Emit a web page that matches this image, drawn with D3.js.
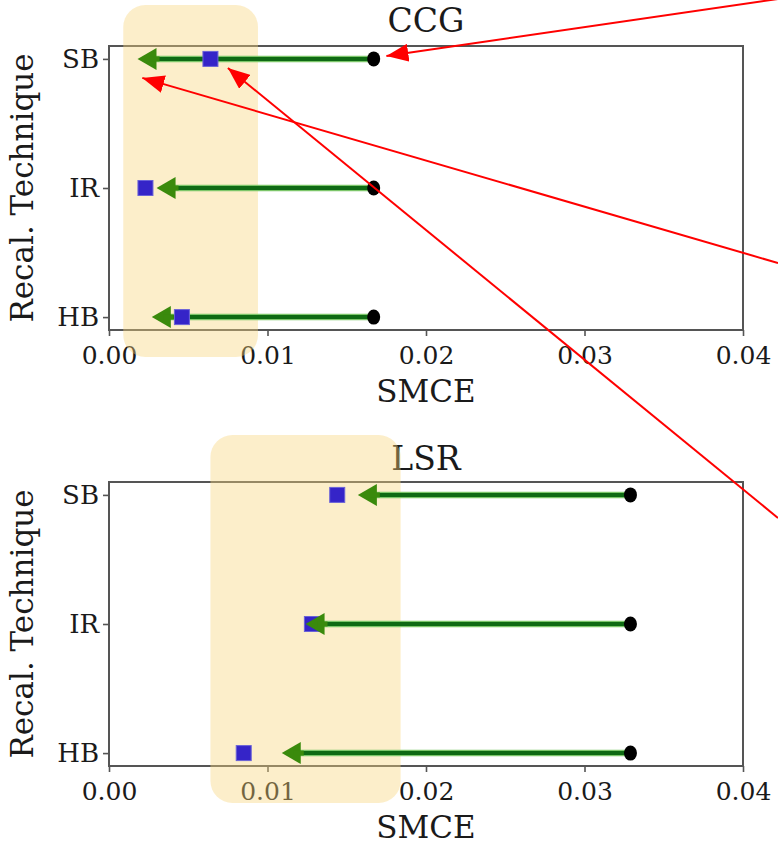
<!DOCTYPE html>
<html>
<head>
<meta charset="utf-8">
<script src="https://cdn.jsdelivr.net/npm/d3@7"></script>
<style>
  body { margin: 0; background: #fff; }
  text { font-family: "DejaVu Serif", serif; fill: #1a1a1a; }
</style>
</head>
<body>
<script>
// recalibration techniques, top to bottom
var techniques = ["SB", "IR", "HB"];
var xTicks = [0, 0.01, 0.02, 0.03, 0.04];

// CCG panel
var ccgBefore = [0.0167, 0.0167, 0.0167];
var ccgArrowEnd = [0.0018, 0.0030, 0.0027];
var ccgAfter = [0.0064, 0.0023, 0.0046];
var ccgHighlight = [0.0009, 0.0094];

// LSR panel
var lsrBefore = [0.0329, 0.0329, 0.0329];
var lsrArrowEnd = [0.0157, 0.0124, 0.0109];
var lsrAfter = [0.0144, 0.0128, 0.0085];
var lsrHighlight = [0.0064, 0.0184];

var W = 778, H = 846;
var svg = d3.select("body").append("svg")
  .attr("width", W)
  .attr("height", H);

var defs = svg.append("defs");
defs.append("marker")
  .attr("id", "redhead")
  .attr("viewBox", "0 -9 22 18")
  .attr("refX", 22)
  .attr("refY", 0)
  .attr("markerWidth", 22)
  .attr("markerHeight", 18)
  .attr("markerUnits", "userSpaceOnUse")
  .attr("orient", "auto")
  .append("path")
  .attr("d", "M0,-9L22,0L0,9Z")
  .attr("fill", "#ff0000");

var x = d3.scaleLinear().domain([0, 0.04]).range([109, 743]);

var panels = [];

function drawPanel(title, top, bottom, before, arrowEnd, after, highlight, hlTop, hlBottom, titleY){
  // y positions: HB=0 .. SB=2 with 5% margins
  var y = d3.scaleLinear().domain([-0.1, 2.1]).range([bottom, top]);
  var yPos = function(i){ return y(2 - i); };
  var g = svg.append("g");

  // spines
  g.append("rect")
    .attr("x", x(0)).attr("y", top)
    .attr("width", x(0.04) - x(0)).attr("height", bottom - top)
    .attr("fill", "none").attr("stroke", "#555").attr("stroke-width", 2);

  // x axis
  var xa = g.append("g").attr("transform", "translate(0," + bottom + ")")
    .call(d3.axisBottom(x).tickValues(xTicks).tickFormat(d3.format(".2f")).tickSize(6).tickPadding(4));
  xa.select(".domain").remove();
  xa.selectAll("line").attr("stroke", "#555").attr("stroke-width", 1.6);
  xa.selectAll("text").attr("font-size", 25).attr("fill", "#1a1a1a").attr("dy", "0.95em");

  // y axis
  var yb = d3.scaleOrdinal().domain(techniques).range(techniques.map(function(d, i){ return yPos(i); }));
  var ya = g.append("g").attr("transform", "translate(" + x(0) + ",0)")
    .call(d3.axisLeft(yb).tickSize(6).tickPadding(4));
  ya.select(".domain").remove();
  ya.selectAll("line").attr("stroke", "#555").attr("stroke-width", 1.6);
  ya.selectAll("text").attr("font-size", 26).attr("fill", "#1a1a1a");

  // labels
  g.append("text")
    .attr("x", x(0.02)).attr("y", bottom + 72)
    .attr("text-anchor", "middle").attr("font-size", 31)
    .text("SMCE");
  g.append("text")
    .attr("transform", "translate(33," + ((top + bottom) / 2) + ") rotate(-90)")
    .attr("text-anchor", "middle").attr("font-size", 31)
    .text("Recal. Technique");
  g.append("text")
    .attr("x", x(0.02)).attr("y", titleY)
    .attr("text-anchor", "middle").attr("font-size", 33)
    .text(title);

  // highlight box over the axes, under the marks
  g.append("rect")
    .attr("x", x(highlight[0])).attr("y", hlTop)
    .attr("width", x(highlight[1]) - x(highlight[0]))
    .attr("height", hlBottom - hlTop)
    .attr("rx", 22).attr("ry", 22)
    .attr("fill", "#f8d47a").attr("fill-opacity", 0.4);

  // arrows from before -> after
  var rows = techniques.map(function(t, i){
    return {t: t, i: i, b: before[i], e: arrowEnd[i], a: after[i]};
  });
  g.selectAll(".shaft").data(rows).enter().append("line")
    .attr("x1", function(d){ return x(d.b); })
    .attr("x2", function(d){ return x(d.e) + 16; })
    .attr("y1", function(d){ return yPos(d.i); })
    .attr("y2", function(d){ return yPos(d.i); })
    .attr("stroke", "#7cc66a").attr("stroke-width", 6.5);
  g.selectAll(".shaft2").data(rows).enter().append("line")
    .attr("x1", function(d){ return x(d.b); })
    .attr("x2", function(d){ return x(d.e) + 16; })
    .attr("y1", function(d){ return yPos(d.i); })
    .attr("y2", function(d){ return yPos(d.i); })
    .attr("stroke", "#0f6a14").attr("stroke-width", 4);

  g.selectAll(".after").data(rows).enter().append("rect")
    .attr("x", function(d){ return x(d.a) - 7.5; })
    .attr("y", function(d){ return yPos(d.i) - 7.5; })
    .attr("width", 15).attr("height", 15)
    .attr("fill", "#3524c8").attr("stroke", "#6a62d8").attr("stroke-width", 1);

  g.selectAll(".head").data(rows).enter().append("path")
    .attr("d", function(d){
      var tx = x(d.e), ty = yPos(d.i);
      return "M" + tx + "," + ty + "L" + (tx + 19) + "," + (ty - 11) + "L" + (tx + 19) + "," + (ty + 11) + "Z";
    })
    .attr("fill", "#3a8a0c");
  g.selectAll(".headshaft").data(rows).enter().append("line")
    .attr("x1", function(d){ return x(d.e) + 12; })
    .attr("x2", function(d){ return x(d.e) + 22; })
    .attr("y1", function(d){ return yPos(d.i); })
    .attr("y2", function(d){ return yPos(d.i); })
    .attr("stroke", "#3a8a0c").attr("stroke-width", 5);

  g.selectAll(".before").data(rows).enter().append("ellipse")
    .attr("cx", function(d){ return x(d.b); })
    .attr("cy", function(d){ return yPos(d.i); })
    .attr("rx", 6.5).attr("ry", 7.5)
    .attr("fill", "#000");

  panels.push({y: yPos});
}

drawPanel("CCG", 46, 330, ccgBefore, ccgArrowEnd, ccgAfter, ccgHighlight, 5, 357, 32);
drawPanel("LSR", 482, 766, lsrBefore, lsrArrowEnd, lsrAfter, lsrHighlight, 435, 803, 470);

// red annotation arrows pointing into the CCG SB row
var sbY = panels[0].y(0);
var notes = [
  {from: [W, -1], to: [x(0.0175), sbY - 3]},
  {from: [W, 263], to: [x(0.0021), sbY + 19]},
  {from: [W, 518], to: [x(0.0075), sbY + 9]}
];
svg.selectAll(".note").data(notes).enter().append("line")
  .attr("x1", function(d){ return d.from[0]; })
  .attr("y1", function(d){ return d.from[1]; })
  .attr("x2", function(d){ return d.to[0]; })
  .attr("y2", function(d){ return d.to[1]; })
  .attr("stroke", "#ff0000").attr("stroke-width", 2)
  .attr("marker-end", "url(#redhead)");
</script>
</body>
</html>
